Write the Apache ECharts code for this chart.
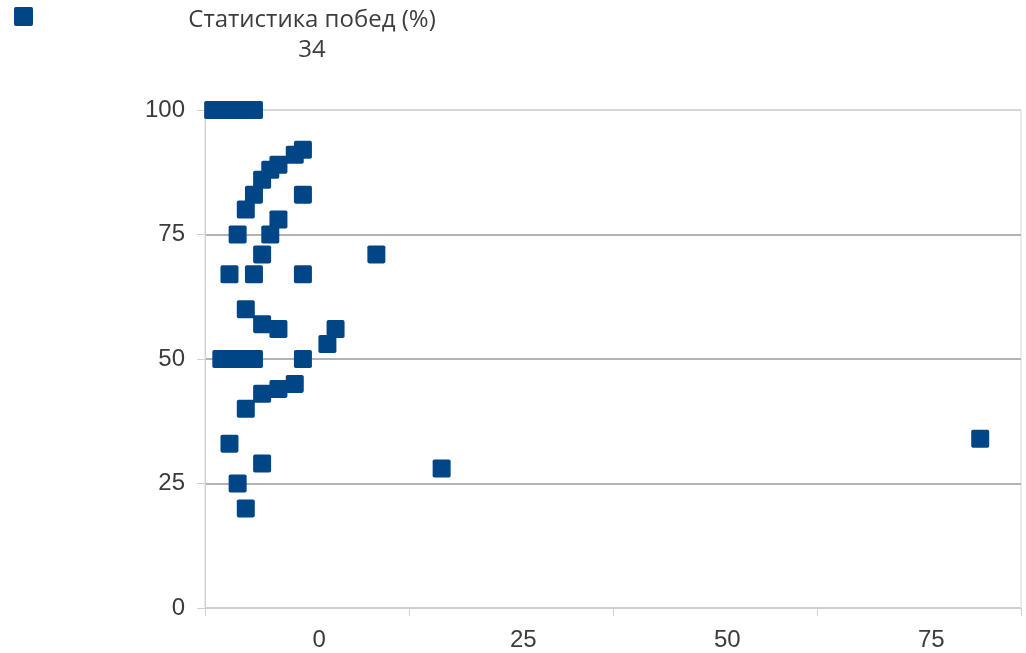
<!DOCTYPE html>
<html>
<head>
<meta charset="utf-8">
<script src="https://cdn.jsdelivr.net/npm/echarts@6/dist/echarts.min.js"></script>
<style>
  html, body { margin: 0; padding: 0; background: #fff; }
  #chart { width: 1026px; height: 653px; }
</style>
</head>
<body>
<div id="chart"></div>
<script>
// Значения точек (x, y)
const pointsX = [-13, -12, -11, -10, -9, -8,
  -2, -3, -5, -6, -7, -8, -9, -2, -5, -6, -10, -7, 7, -11, -8, -2,
  -9, -7, -5, 2, 1, -2,
  -12, -11, -10, -9, -8,
  -3, -5, -7, -9, -11, -7, 15, -10, -9, 81];
const pointsY = [100, 100, 100, 100, 100, 100,
  92, 91, 89, 88, 86, 83, 80, 83, 78, 75, 75, 71, 71, 67, 67, 67,
  60, 57, 56, 56, 53, 50,
  50, 50, 50, 50, 50,
  45, 44, 43, 40, 33, 29, 28, 25, 20, 34];

const xLabelValues = [0, 25, 50, 75];
const xTickValues = [-14, 11, 36, 61, 86];
const yTicks = [0, 25, 50, 75, 100];

const seriesName = 'Статистика побед (%)';

// квадрат с небольшим скруглением углов
const markerPath = 'path://M10,0H90Q100,0 100,10V90Q100,100 90,100H10Q0,100 0,90V10Q0,0 10,0Z';

const chart = echarts.init(document.getElementById('chart'));

const data = pointsX.map((x, i) => [x, pointsY[i]]);

chart.setOption({
  animation: false,
  title: {
    text: seriesName,
    subtext: '34',
    left: 307,
    top: 3,
    textAlign: 'center',
    itemGap: 6,
    textStyle: { fontFamily: 'Open Sans', fontSize: 24, fontWeight: 'normal', color: '#3c3c3c' },
    subtextStyle: { fontFamily: 'Open Sans', fontSize: 24, color: '#3c3c3c' }
  },
  legend: {
    left: 9,
    top: 2,
    icon: markerPath,
    itemWidth: 19,
    itemHeight: 19,
    formatter: () => '',
    data: [seriesName]
  },
  grid: {
    left: 205,
    right: 5,
    top: 110,
    bottom: 45,
    show: true,
    borderColor: '#d6d6d6',
    borderWidth: 1
  },
  xAxis: {
    type: 'value',
    min: -14,
    max: 86,
    axisLine: { show: true, lineStyle: { color: '#d0d0d0' } },
    axisTick: { show: true, length: 8, customValues: xTickValues, lineStyle: { color: '#d0d0d0' } },
    axisLabel: {
      customValues: xLabelValues,
      margin: 20,
      fontFamily: 'Liberation Sans',
      fontSize: 24,
      color: '#3b3b3b'
    },
    splitLine: { show: false }
  },
  yAxis: {
    type: 'value',
    min: yTicks[0],
    max: yTicks[yTicks.length - 1],
    interval: 25,
    axisLine: { show: true, onZero: false, lineStyle: { color: '#d0d0d0' } },
    axisTick: { show: true, length: 8, lineStyle: { color: '#d0d0d0' } },
    axisLabel: {
      margin: 20,
      fontFamily: 'Liberation Sans',
      fontSize: 24,
      color: '#3b3b3b'
    },
    splitLine: {
      show: true,
      lineStyle: { color: ['#d0d0d0', '#b3b3b3', '#b3b3b3', '#b3b3b3', '#d6d6d6'], width: 2 }
    }
  },
  series: [
    {
      name: seriesName,
      type: 'scatter',
      symbol: markerPath,
      symbolSize: 18,
      itemStyle: { color: '#004586', opacity: 1 },
      data: data
    }
  ]
});
</script>
</body>
</html>
